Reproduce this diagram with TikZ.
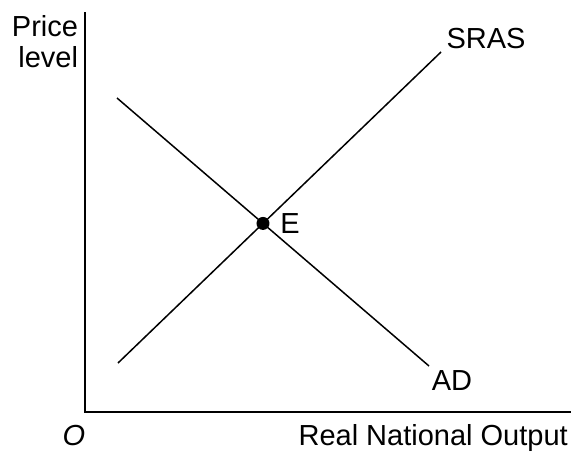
\documentclass[tikz,border=0pt]{standalone}
\usepackage{fontspec}
\setmainfont{Liberation Sans}
\begin{document}
\begin{tikzpicture}[x=1pt,y=-1pt,
  lbl/.style={inner sep=0pt,font=\fontsize{29}{31}\selectfont},
  axis/.style={line width=2.4pt},
  curve/.style={line width=1.5pt}]
\useasboundingbox (0,0) rectangle (573,453);
\coordinate (ytop) at (85,12);
\coordinate (orig) at (85,412);
\coordinate (xend) at (571,412);
\draw[axis] (ytop) -- (orig) -- (xend);
\coordinate (s1) at (118,363);
\coordinate (s2) at (441,52);
\coordinate (d1) at (117,98);
\coordinate (d2) at (429,366);
\draw[curve] (s1) -- (s2);
\draw[curve] (d1) -- (d2);
\fill (intersection of s1--s2 and d1--d2) circle (6.5) coordinate (E);
\node[lbl,align=right] (pl) at (45,42) {Price\\level};
\node[lbl,anchor=base] (sras) at (486,48) {SRAS};
\node[lbl,anchor=base] (ad) at (452,390) {AD};
\node[lbl,anchor=base] (el) at (290,233) {E};
\node[lbl,anchor=base] (o) at (74,445) {\itshape O};
\node[lbl,anchor=base east] (xl) at (568,445) {Real National Output};
\end{tikzpicture}
\end{document}
